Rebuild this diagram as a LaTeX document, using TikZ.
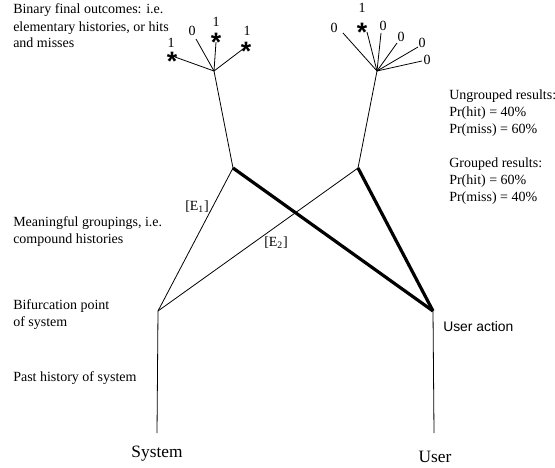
\documentclass[tikz,border=0pt]{standalone}
\usepackage{fontspec}
\setmainfont{Liberation Serif}
\newfontfamily\sansfont{Liberation Sans}

\tikzset{
  branch/.style={line width=0.6pt},
  chosen/.style={line width=2.4pt},
  note/.style={font=\fontsize{10.5}{12.75}\selectfont, align=left, anchor=base west, inner sep=0pt},
  digit/.style={font=\fontsize{10.5}{12}\selectfont, inner sep=0pt},
  hit/.style={font=\sansfont\bfseries\fontsize{20}{20}\selectfont, inner sep=0pt, anchor=base, yshift=-11.6pt},
  agent/.style={font=\fontsize{13}{15}\selectfont, inner sep=0pt, anchor=base},
}

\begin{document}
\begin{tikzpicture}[x=0.75pt, y=-0.75pt]
\useasboundingbox (0,0) rectangle (555,467);

% points of the two histories
\coordinate (s0) at (157,433);
\coordinate (sb) at (158,311);
\coordinate (g1) at (233,168);
\coordinate (g2) at (358,168);
\coordinate (u0) at (434,433);
\coordinate (ua) at (433,311);
\coordinate (f1) at (214,71);
\coordinate (f2) at (377,71);

% ends of the outcome branches
\coordinate (l1) at (175,57);
\coordinate (l2) at (196,39);
\coordinate (l3) at (216,42);
\coordinate (l4) at (243,49);
\coordinate (r1) at (343,33);
\coordinate (r2) at (367,32);
\coordinate (r3) at (381,33);
\coordinate (r4) at (397,43);
\coordinate (r5) at (418,47);
\coordinate (r6) at (422,61);

\draw[branch] (s0) -- (sb);
\draw[branch] (sb) -- (g1);
\draw[branch] (sb) -- (g2);
\draw[branch] (g1) -- (f1);
\draw[branch] (g2) -- (f2);
\draw[branch] (u0) -- (ua);

\draw[chosen] (g1) -- (ua);
\draw[chosen] (g2) -- (ua);

\draw[branch] (f1) -- (l1);
\draw[branch] (f1) -- (l2);
\draw[branch] (f1) -- (l3);
\draw[branch] (f1) -- (l4);

\draw[branch] (f2) -- (r1);
\draw[branch] (f2) -- (r2);
\draw[branch] (f2) -- (r3);
\draw[branch] (f2) -- (r4);
\draw[branch] (f2) -- (r5);
\draw[branch] (f2) -- (r6);

% outcomes
\node[hit] (h1) at (172,55) {*};
\node[hit] (h2) at (216,36) {*};
\node[hit] (h3) at (246,45) {*};
\node[hit] (h4) at (362,26) {*};

\node[digit] (d1) at (171,43) {1};
\node[digit] (d2) at (192,31) {0};
\node[digit] (d3) at (216,22) {1};
\node[digit] (d4) at (247,31) {1};
\node[digit] (d5) at (334,28) {0};
\node[digit] (d6) at (362,8) {1};
\node[digit] (d7) at (383,26) {0};
\node[digit] (d8) at (401,37) {0};
\node[digit] (d9) at (422,43) {0};
\node[digit] (d10) at (427,60) {0};

% groupings
\node[digit] (e1) at (197,207) {[E\textsubscript{1}]};
\node[digit] (e2) at (276,243) {[E\textsubscript{2}]};

% notes (placed by the baseline of their last line)
\node[note] (t1) at (13,48) {Binary final outcomes: i.e.\\elementary histories, or hits\\and misses};
\node[note] (t2) at (13,243) {Meaningful groupings, i.e.\\compound histories};
\node[note] (t3) at (13,326) {Bifurcation point\\of system};
\node[note] (t4) at (13,381) {Past history of system};
\node[note] (t5) at (449,133) {Ungrouped results:\\Pr(hit) = 40\%\\Pr(miss) = 60\%};
\node[note] (t6) at (449,201) {Grouped results:\\Pr(hit) = 60\%\\Pr(miss) = 40\%};
\node[note, font=\sansfont\fontsize{10.4}{12}\selectfont] (t7) at (443,331) {User action};

\node[agent] (sys) at (157,457) {System};
\node[agent] (usr) at (435,462) {User};

\end{tikzpicture}
\end{document}
